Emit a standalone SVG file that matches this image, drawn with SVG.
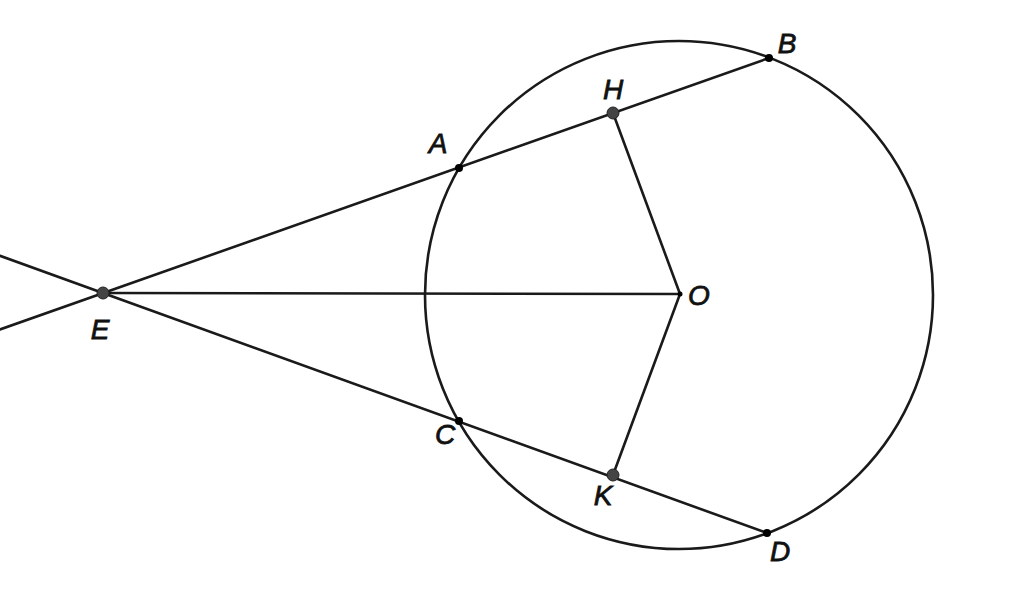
<svg xmlns="http://www.w3.org/2000/svg" width="1024" height="596" viewBox="0 0 1024 596">
<style>
.ln{stroke:#1a1a1a;stroke-width:2.6;fill:none;stroke-linecap:round}
.lbl{font-family:"Liberation Sans",Arial,sans-serif;font-style:italic;font-size:28px;fill:#111;stroke:#111;stroke-width:0.8;text-anchor:middle}
.big{fill:#444;stroke:#222;stroke-width:1}
.sm{fill:#000}
</style>
<rect width="1024" height="596" fill="#fff"/>
<g id="connectors">
<circle class="ln" cx="679" cy="295" r="254"/>
<line class="ln" x1="0" y1="329.5" x2="769" y2="58"/>
<line class="ln" x1="0" y1="255.8" x2="767" y2="533"/>
<line class="ln" x1="103" y1="293" x2="680" y2="294"/>
<line class="ln" x1="613" y1="113" x2="680" y2="294"/>
<line class="ln" x1="613" y1="475" x2="680" y2="294"/>
</g>
<g id="E"><circle class="big" cx="103" cy="293" r="6"/><text class="lbl" x="100" y="339">E</text></g>
<g id="A"><circle class="sm" cx="459" cy="168" r="4"/><text class="lbl" x="438" y="153">A</text></g>
<g id="H"><circle class="big" cx="613" cy="113" r="6"/><text class="lbl" x="613" y="99">H</text></g>
<g id="B"><circle class="sm" cx="769" cy="58" r="4"/><text class="lbl" x="787" y="53">B</text></g>
<g id="O"><circle class="sm" cx="680" cy="294" r="2.5"/><text class="lbl" x="699" y="305">O</text></g>
<g id="C"><circle class="sm" cx="459" cy="421" r="4"/><text class="lbl" x="445" y="444">C</text></g>
<g id="K"><circle class="big" cx="613" cy="475" r="6"/><text class="lbl" x="603" y="505">K</text></g>
<g id="D"><circle class="sm" cx="767" cy="533" r="4"/><text class="lbl" x="780" y="561">D</text></g>
</svg>
